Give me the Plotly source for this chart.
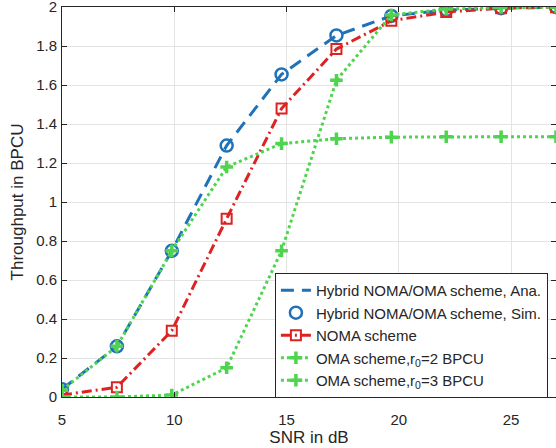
import plotly.graph_objects as go

snr = [5, 7.444, 9.889, 12.333, 14.778, 17.222, 19.667, 22.111, 24.556, 27]
hybrid_ana = [0.04, 0.26, 0.75, 1.29, 1.655, 1.855, 1.955, 1.985, 1.995, 2.0]
hybrid_sim = [0.04, 0.26, 0.75, 1.29, 1.655, 1.855, 1.955, 1.985, 1.995, 2.0]
noma = [0.01, 0.05, 0.34, 0.915, 1.48, 1.785, 1.93, 1.975, 1.995, 2.0]
oma_r2 = [0.035, 0.26, 0.75, 1.18, 1.30, 1.325, 1.333, 1.335, 1.335, 1.335]
oma_r3 = [0.0, 0.0, 0.01, 0.15, 0.75, 1.625, 1.96, 1.99, 1.998, 2.0]

x_ticks = [5, 10, 15, 20, 25]
y_ticks = [0, 0.2, 0.4, 0.6, 0.8, 1, 1.2, 1.4, 1.6, 1.8, 2]
y_labels = ["0", "0.2", "0.4", "0.6", "0.8", "1", "1.2", "1.4", "1.6", "1.8", "2"]

blue = "#1f72b8"
red = "#dd2222"
green = "#4fd44f"
axis_col = "#262626"

fig = go.Figure()
fig.add_trace(go.Scatter(x=snr, y=hybrid_ana, mode="lines",
                         name="Hybrid NOMA/OMA scheme, Ana.",
                         line=dict(color=blue, width=3, dash="13px,8px")))
fig.add_trace(go.Scatter(x=snr, y=hybrid_sim, mode="markers",
                         name="Hybrid NOMA/OMA scheme, Sim.",
                         marker=dict(symbol="circle-open", size=12, color=blue,
                                     line=dict(width=2.5, color=blue))))
fig.add_trace(go.Scatter(x=snr, y=noma, mode="lines+markers",
                         name="NOMA scheme",
                         line=dict(color=red, width=3, dash="10px,4px,2px,4px"),
                         marker=dict(symbol="square-open", size=10, color=red,
                                     line=dict(width=2, color=red))))
fig.add_trace(go.Scatter(x=snr, y=oma_r2, mode="lines+markers",
                         name="OMA scheme,r<sub>0</sub>=2 BPCU",
                         line=dict(color=green, width=3, dash="3px,3px"),
                         marker=dict(symbol="cross-thin", size=9, color=green,
                                     line=dict(width=3.5, color=green))))
fig.add_trace(go.Scatter(x=snr, y=oma_r3, mode="lines+markers",
                         name="OMA scheme,r<sub>0</sub>=3 BPCU",
                         line=dict(color=green, width=3, dash="3px,3px"),
                         marker=dict(symbol="cross-thin", size=9, color=green,
                                     line=dict(width=3.5, color=green))))

axis_common = dict(showline=True, linecolor=axis_col, linewidth=1, mirror="ticks",
                   ticks="inside", ticklen=5, tickcolor=axis_col,
                   showgrid=True, gridcolor="#e3e3e3", gridwidth=1,
                   zeroline=False, tickfont=dict(size=15, color=axis_col),
                   automargin=False, ticklabeloverflow="allow")

fig.update_xaxes(range=[5, 27], tickvals=x_ticks, ticklabelstandoff=9,
                 title=dict(text="SNR in dB", font=dict(size=17, color=axis_col), standoff=3),
                 **axis_common)
fig.update_yaxes(range=[0, 2.0008], tickvals=y_ticks, ticktext=y_labels,
                 ticklabelstandoff=1,
                 title=dict(text="Throughput in BPCU", font=dict(size=17, color=axis_col), standoff=8),
                 **axis_common)

fig.update_layout(
    width=556, height=448,
    margin=dict(l=62, r=0, t=7, b=51),
    paper_bgcolor="white", plot_bgcolor="white",
    font=dict(family="Liberation Sans, Arial, sans-serif", color=axis_col),
    legend=dict(x=0.431, y=0.318, xanchor="left", yanchor="top",
                bgcolor="white", bordercolor=axis_col, borderwidth=1,
                font=dict(size=15, color=axis_col), tracegroupgap=0,
                itemwidth=30),
    showlegend=True,
)

fig.write_html("out.html", config={"displayModeBar": False},
               post_script="document.body.style.margin='0px';document.body.style.overflow='hidden';")
